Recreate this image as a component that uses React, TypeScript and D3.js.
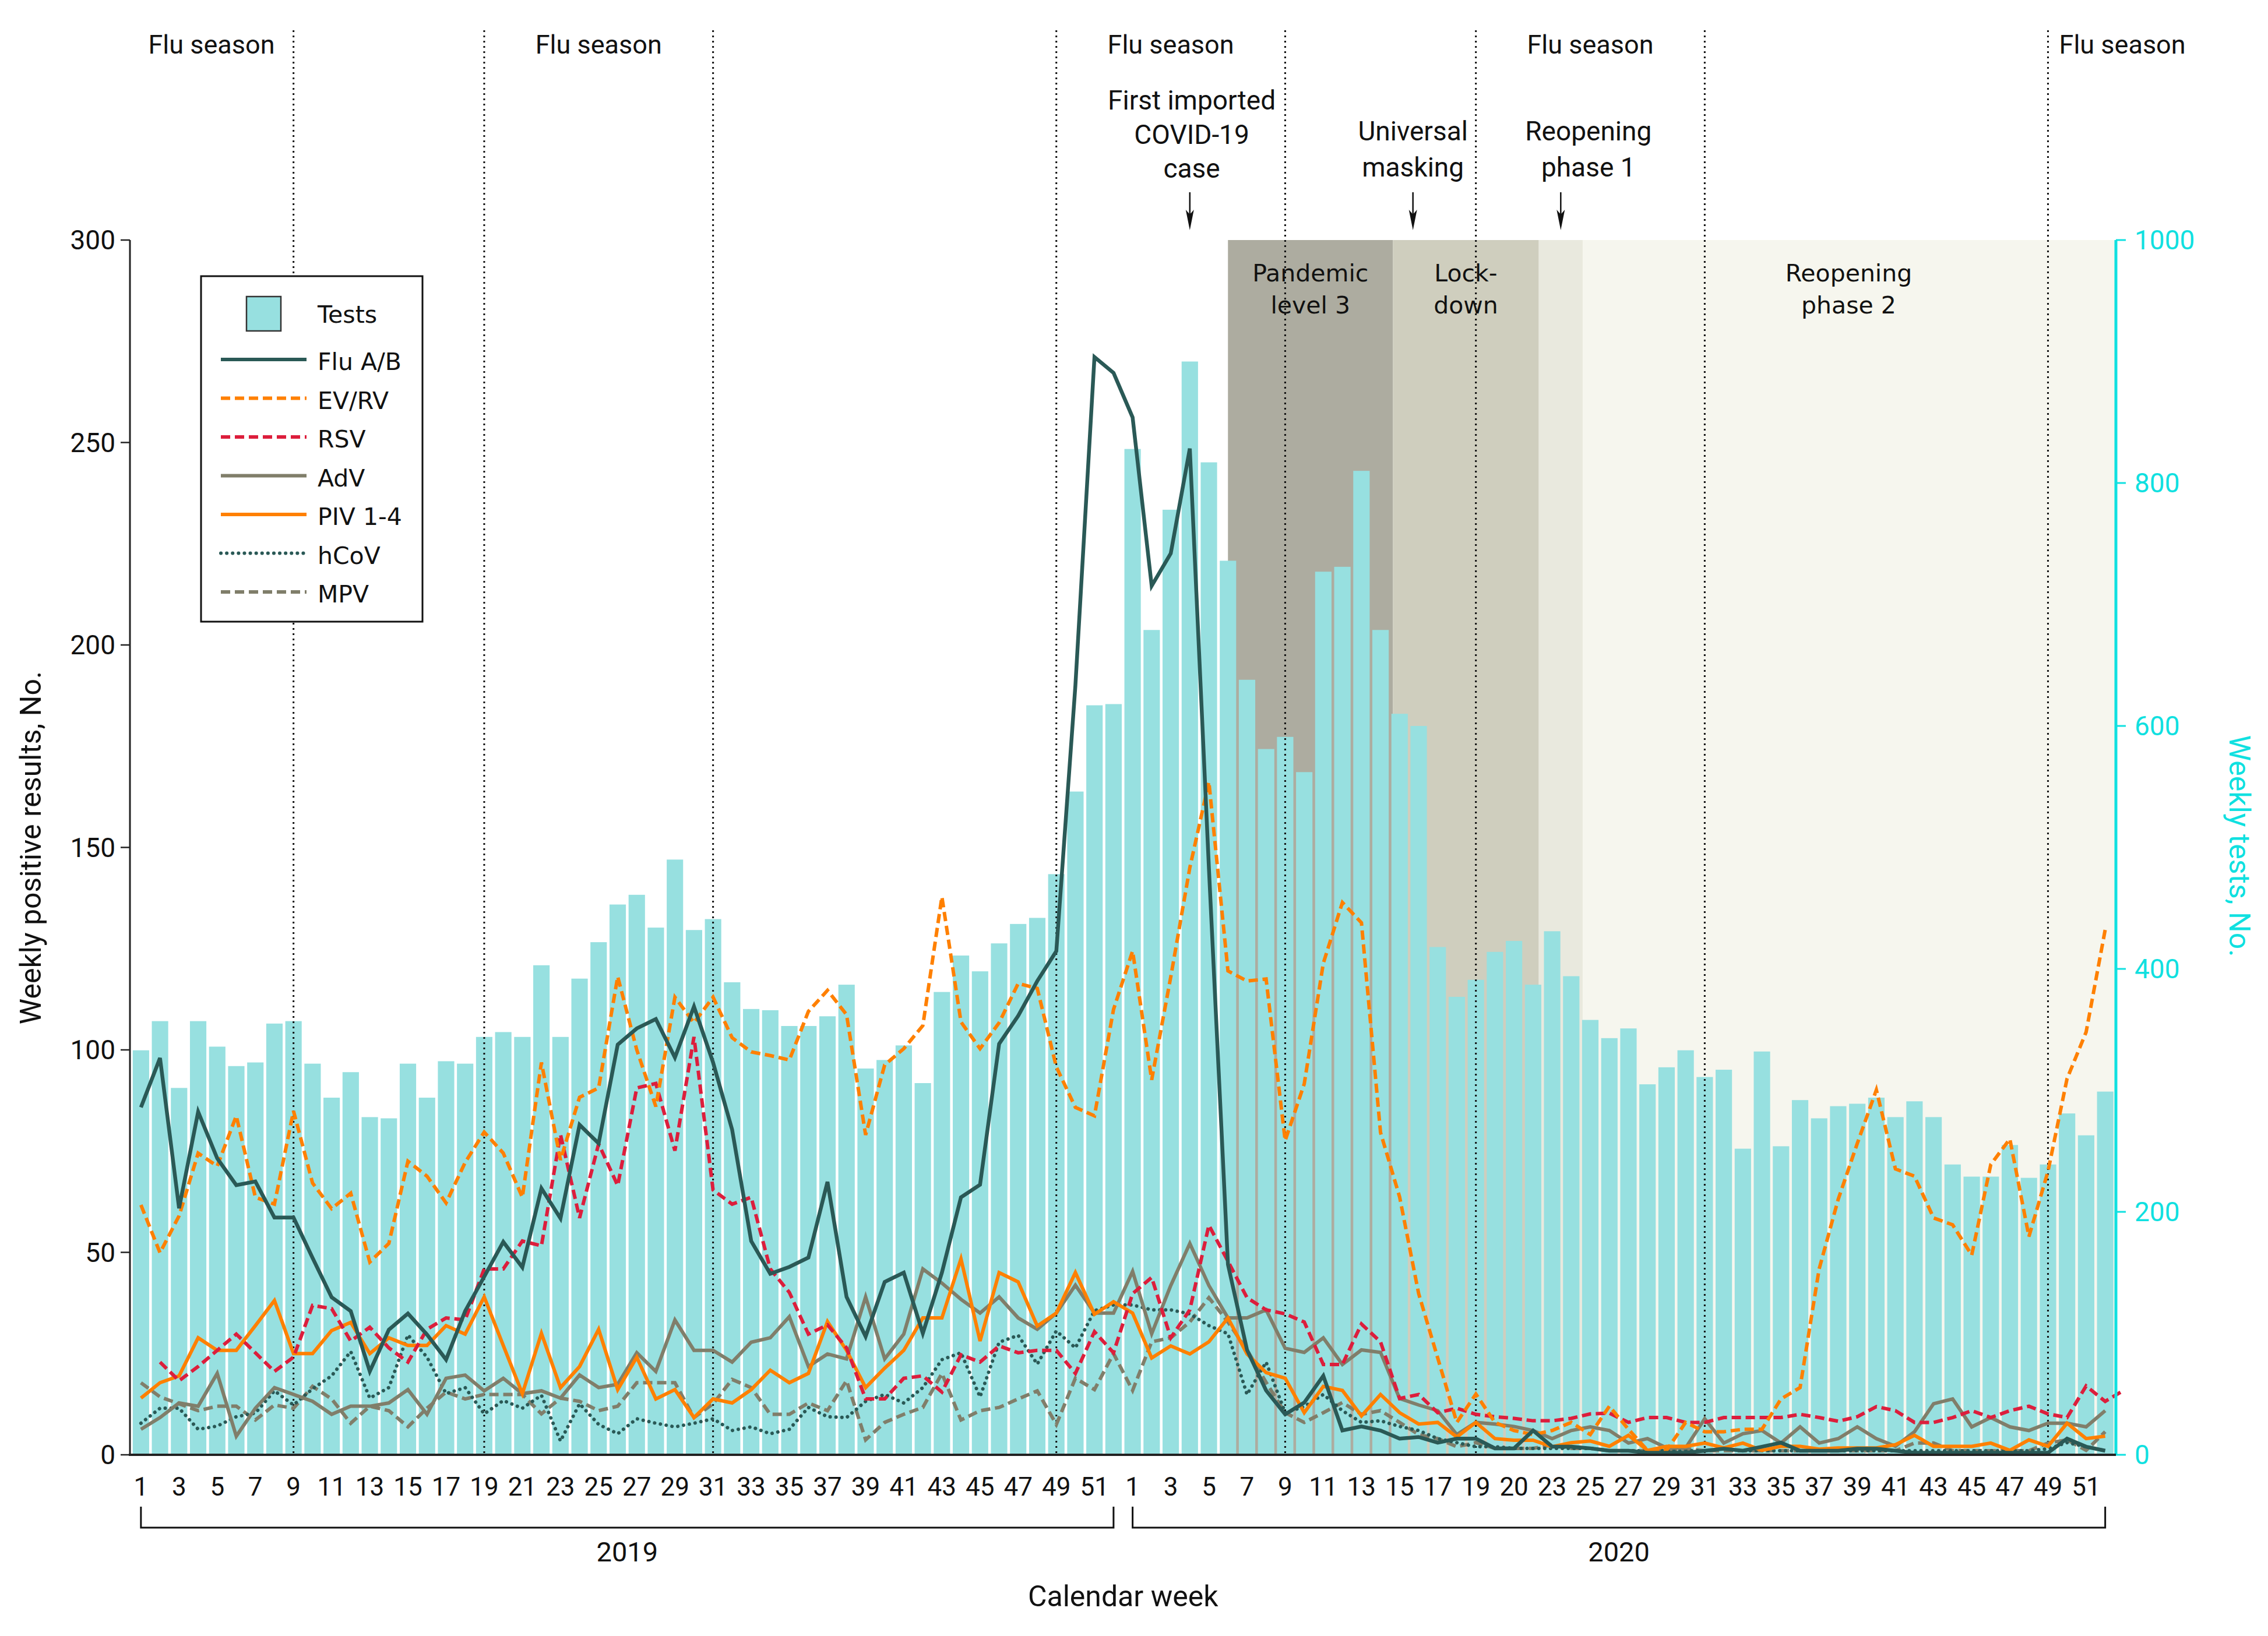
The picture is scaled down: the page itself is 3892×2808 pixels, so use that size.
import React from "react";
import * as d3 from "d3";

const W = 3892;
const H = 2808;

// ---------- DATA ----------
const tests2019 = [333, 357, 302, 357, 336, 320, 323, 355, 357, 322, 294, 315, 278, 277, 322, 294, 324, 322, 344, 348, 344, 403, 344, 392, 422, 453, 461, 434, 490, 432, 441, 389, 367, 366, 353, 353, 361, 387, 318, 325, 337, 306, 381, 411, 398, 421, 437, 442, 478, 546, 617, 618];
const tests2020 = [828, 679, 778, 900, 817, 736, 638, 581, 591, 562, 727, 731, 810, 679, 610, 600, 418, 377, 391, 414, 423, 387, 431, 394, 358, 343, 351, 305, 319, 333, 311, 317, 252, 332, 254, 292, 277, 287, 289, 294, 278, 291, 278, 239, 229, 229, 255, 228, 239, 281, 263, 299];

const flu2019 = [85.8, 98, 60.9, 84.7, 73.2, 66.6, 67.5, 58.6, 58.6, 48.6, 38.9, 35.5, 20.6, 30.9, 34.9, 29.7, 23.5, 35.5, 44, 52.6, 46.3, 65.8, 58.4, 81.5, 76.9, 101.3, 105.3, 107.6, 98.1, 110.7, 96.9, 80.3, 52.8, 44.7, 46.4, 48.7, 67.4, 39, 29.2, 42.7, 45, 30, 45, 63.6, 66.7, 101.5, 108.4, 117, 124.4, 190, 271.1, 267.2];
const flu2020 = [256.2, 214.6, 222.6, 248.5, 145, 47, 25.9, 15.9, 10, 12.9, 19.5, 6, 7, 6, 4, 4.4, 3, 4, 4, 1.6, 1.6, 6, 2, 2, 1.6, 1, 1, 0.5, 0.5, 0.5, 1, 1.5, 1, 2, 3, 1, 1, 1, 1.5, 1.5, 1, 0.5, 0.5, 0.5, 0.5, 0.5, 0.5, 0.5, 0.5, 4, 2, 1];

const evrv2019 = [61.7, 49.9, 59, 74.5, 71.3, 83.7, 63.6, 61.9, 84.9, 67.1, 60.8, 64.6, 47.6, 52.2, 72.5, 68.8, 62.2, 72.2, 79.7, 74.5, 63.6, 96.9, 72.8, 88.3, 90.6, 118.1, 100, 86, 113, 106.7, 113, 103, 99.5, 98.6, 97.5, 109.5, 114.7, 108.7, 79, 96.3, 100.3, 106, 137.8, 106.9, 100.3, 106.7, 116.4, 115.2, 95.8, 85.8, 83.7, 110];
const evrv2020 = [124.4, 92.6, 118, 145, 166.2, 119.5, 117, 117.5, 77.6, 91.6, 121.4, 136.4, 131.4, 79.6, 63.7, 39.8, 23.9, 8, 15, 8, 6, 5, 6, 8, 5, 12, 6.3, 1.1, 1.1, 8, 5.7, 5.7, 6.3, 6.3, 13.8, 16.6, 45.9, 63.1, 76.9, 90.1, 70.6, 68.8, 58.5, 56.8, 49.3, 71.7, 78, 53.9, 70, 92.9, 104.4, 129.7];

const rsv2019 = [null, 22.9, 18.3, 21.8, 25.8, 29.8, 25.2, 20.6, 24.1, 36.9, 36.1, 28.1, 31.5, 26.4, 22.9, 31, 33.8, 33.3, 45.9, 45.9, 52.8, 51.6, 79.1, 58.5, 76.8, 66.5, 90.6, 91.7, 75.1, 103.2, 65.4, 61.9, 63.6, 45.9, 40.1, 29.8, 32.1, 26.4, 13.8, 13.8, 18.9, 19.5, 15.5, 24.7, 22.9, 26.9, 25.2, 25.8, 25.8, 20.1, 30.4, 25.2];
const rsv2020 = [39.8, 43.8, 28.9, 35.8, 56.7, 47.8, 38.8, 35.8, 34.8, 32.8, 22.3, 22.3, 32.3, 27.9, 13.9, 14.9, 10.4, 11.5, 10, 9.4, 9, 8.4, 8.4, 9, 10.1, 10.3, 8, 9.2, 9.2, 8, 8, 9.2, 9.2, 9.2, 9.2, 10, 9.2, 8.3, 9.4, 11.9, 10.9, 8, 8, 9.2, 10.9, 9.2, 10.9, 12, 10.1, 9.2, 17, 13.2, 16];

const adv2019 = [6.3, 9.2, 12.8, 12, 20.1, 4.6, 11.5, 16.6, 14.9, 13.2, 10, 12, 12, 12.8, 16.1, 10, 18.9, 19.7, 15.8, 18.9, 15.1, 15.8, 14, 19.7, 16.6, 17.4, 25.2, 20.6, 33.3, 25.8, 25.8, 22.9, 27.8, 28.9, 34.1, 21.8, 24.9, 23.7, 39, 23.7, 29.8, 45.9, 42.4, 38.4, 35, 39, 33.8, 31, 35, 41.9, 35, 35];
const adv2020 = [45.3, 29.9, 41.8, 52.2, 41.8, 33.8, 33.8, 35.8, 26.3, 25.3, 28.9, 22.3, 25.9, 25.3, 13.9, 12.3, 10.9, 5, 8, 7.6, 7, 6, 4, 6, 6.9, 6, 2.9, 4, 1.7, 1.7, 8.9, 2.9, 5.2, 6, 2.9, 6.9, 2.9, 4, 6.9, 4, 2.1, 5.7, 12.6, 13.8, 6.9, 9.2, 6.9, 6, 7.8, 7.8, 6.9, 10.9];

const piv2019 = [14, 17.8, 19.5, 28.9, 25.8, 25.8, 31.9, 38.1, 25, 25, 30.7, 32.7, 25, 28.9, 27, 27, 31.9, 29.8, 39, 27, 15.1, 30, 16.6, 21.8, 31, 16.1, 24.1, 13.8, 16.1, 9.2, 13.8, 12.8, 16.1, 20.9, 17.8, 20.1, 32.9, 25.8, 16.6, 21.4, 25.8, 33.8, 33.8, 48.4, 28.1, 45, 42.7, 31.8, 35, 45, 34.7, 37.8];
const piv2020 = [35, 23.9, 26.9, 24.9, 27.9, 33.8, 24.9, 20.3, 18.9, 10.4, 16.9, 15.9, 9.6, 14.9, 10.4, 7.6, 8, 4.4, 8, 4, 3.6, 3.6, 2, 3, 3.4, 2.1, 4.8, 1.1, 2.1, 2.1, 2.9, 1.7, 2.9, 1.1, 2.1, 2.1, 1.4, 1.7, 1.7, 1.7, 2.5, 4.8, 2.1, 2.1, 2.1, 2.9, 1.1, 3.7, 2.1, 7.8, 4, 4.6];

const hcov2019 = [7.8, 11.5, 11.5, 6.3, 7.1, 9.4, 10.3, 15.8, 12.3, 16.3, 19.5, 25.5, 14, 16.6, 29.6, 24.1, 15.1, 16.6, 10.1, 13.4, 11.5, 14.7, 3.4, 12.6, 7.5, 5.2, 8.9, 7.8, 6.9, 7.8, 8.9, 6, 6.9, 5.2, 6.3, 11.7, 9.4, 9.2, 13.2, 14.9, 12.8, 16.6, 23.5, 25.2, 14.3, 27.8, 29.5, 22.4, 30.6, 26.4, 35.6, 37];
const hcov2020 = [37, 35.8, 35.8, 34.8, 31.9, 29.9, 14.9, 22.9, 10.4, 11.9, 14.9, 10.9, 8, 8.4, 7, 6, 4, 3, 2, 2, 1.6, 1.6, 1.6, 1.6, 1.6, 1, 1, 1, 1, 1, 1, 1.5, 1, 1, 1, 1, 1, 1, 1, 1, 1, 1, 1, 1, 1, 1, 1, 1, 1.5, 3, 2, 1];

const mpv2019 = [17.8, 14.3, 12.6, 10.9, 12, 12, 8.6, 12.3, 11.5, 16.9, 13.8, 7.8, 12, 10.9, 6.9, 11.5, 15.5, 13.8, 14.9, 14.9, 14.9, 10.1, 14, 13.2, 10.9, 12, 17.8, 17.8, 17.8, 9.2, 12.6, 18.6, 16.6, 10, 10, 12.8, 10.9, 18.3, 3.7, 8, 10, 11.7, 20.1, 8.6, 10.9, 11.7, 13.8, 15.8, 7.5, 18.9, 16.1, 25];
const mpv2020 = [15.9, 27.9, 28.9, 32.8, 38.8, 32.8, 25.9, 17.9, 10.4, 8, 10.4, 12.9, 10, 10.9, 8, 5, 4, 2, 3, 1.6, 1.6, 1.6, 2.4, 1.6, 1.6, 1, 1, 1, 1, 1.5, 1, 1, 1, 1, 1, 1, 1, 1, 1, 1, 1, 2.9, 2.9, 1, 1, 1, 1, 1, 2.9, 3.7, 1.1, 5.7];

const weekLabels2019 = ["1", "3", "5", "7", "9", "11", "13", "15", "17", "19", "21", "23", "25", "27", "29", "31", "33", "35", "37", "39", "41", "43", "45", "47", "49", "51"];
const weekLabels2020 = ["1", "3", "5", "7", "9", "11", "13", "15", "17", "19", "20", "23", "25", "27", "29", "31", "33", "35", "37", "39", "41", "43", "45", "47", "49", "51"];
const years = [2019, 2020];

const leftTicks = [0, 50, 100, 150, 200, 250, 300];
const rightTicks = [0, 200, 400, 600, 800, 1000];

// flu season boundaries (year, week)
const fluBoundaries: [number, number][] = [[2019, 9], [2019, 19], [2019, 31], [2019, 49], [2020, 9], [2020, 19], [2020, 31], [2020, 49]];
const fluLabelWeeks: [number, number][] = [[2019, 4.7], [2019, 25], [2020, 3], [2020, 25], [2020, 52.9]];

// policy phases in 2020 (fractional week positions)
const phaseNames = [["Pandemic", "level 3"], ["Lock-", "down"], [], ["Reopening", "phase 2"]];
const phaseStarts2020 = [6, 14.65, 22.3, 24.6];
const phaseEnd2020 = 52.5;
const phaseColors = ["#adaca0", "#cfcebe", "#e9e9de", "#f6f6ee"];

// events in 2020 (arrow week, text week)
const eventLines = [["First imported", "COVID-19", "case"], ["Universal", "masking"], ["Reopening", "phase 1"]];
const eventArrowWeeks = [4, 15.7, 23.45];
const eventTextWeeks = [4.1, 15.7, 24.9];

const seriesNames = ["Flu A/B", "EV/RV", "RSV", "AdV", "PIV 1-4", "hCoV", "MPV"];

// ---------- STYLE ----------
const TEAL = "#2a5956";
const ORANGE = "#ff8000";
const RED = "#dc1e3c";
const OLIVE = "#807e6a";
const CYAN = "#10e0e0";
const BAR = "#97e0e0";
const COND = "Roboto, 'Liberation Sans', sans-serif";
const LEG = "'DejaVu Sans', Verdana, sans-serif";

const seriesStyles = [
  { color: TEAL, dash: undefined as string | undefined, cap: "butt", w: 6.5 },
  { color: ORANGE, dash: "16 8", cap: "butt", w: 6 },
  { color: RED, dash: "16 8", cap: "butt", w: 6 },
  { color: OLIVE, dash: undefined, cap: "butt", w: 6 },
  { color: ORANGE, dash: undefined, cap: "butt", w: 6 },
  { color: TEAL, dash: "0.1 10", cap: "round", w: 6 },
  { color: OLIVE, dash: "16 8", cap: "butt", w: 6 },
];

export default function App() {
  const top = 412;
  const bottom = 2497;
  const x = d3.scaleLinear().domain([0, 104]).range([225.5, 3629]);
  const yL = d3.scaleLinear().domain([0, 300]).range([bottom, top]);
  const yR = d3.scaleLinear().domain([0, 1000]).range([bottom, top]);
  const step = x(1) - x(0);
  const bw = step * 0.86;
  const cx = (i: number) => x(i + 0.5);
  const wpos = (year: number, w: number) => (year - 2019) * 52 + (w - 1) + 0.5;

  const tests = [...tests2019, ...tests2020];
  const series = [
    [...flu2019, ...flu2020],
    [...evrv2019, ...evrv2020],
    [...rsv2019, ...rsv2020],
    [...adv2019, ...adv2020],
    [...piv2019, ...piv2020],
    [...hcov2019, ...hcov2020],
    [...mpv2019, ...mpv2020],
  ];
  const drawOrder = [6, 5, 3, 4, 2, 1, 0];

  const line = d3
    .line<number | null>()
    .defined((d) => d != null)
    .x((_, i) => cx(i))
    .y((d) => yL(d as number));

  const phaseBounds = [...phaseStarts2020, phaseEnd2020].map((w) => x(wpos(2020, w)));

  const legendX0 = 345, legendY0 = 474, legendX1 = 725, legendY1 = 1067;
  const legRow = (k: number) => 617 + k * 66.5;

  return (
    <svg width={W} height={H} style={{ position: "absolute", left: 0, top: 0, background: "#fff" }}>
      <rect x={0} y={0} width={W} height={H} fill="#fff" />
      {/* phases */}
      {phaseColors.map((c, k) => (
        <rect key={"ph" + k} x={phaseBounds[k]} y={top} width={phaseBounds[k + 1] - phaseBounds[k]} height={bottom - top} fill={c} />
      ))}
      {/* bars */}
      {tests.map((v, i) => (
        <rect key={"b" + i} x={cx(i) - bw / 2} y={yR(v)} width={bw} height={bottom - yR(v)} fill={BAR} />
      ))}
      {/* phase labels */}
      {phaseNames.map((lines, k) =>
        lines.map((t, j) => (
          <text key={"pl" + k + j} x={(phaseBounds[k] + phaseBounds[k + 1]) / 2} y={483 + j * 55} textAnchor="middle" fontFamily={LEG} fontSize={41} fill="#111">
            {t}
          </text>
        ))
      )}
      {/* flu season boundaries */}
      {fluBoundaries.map(([yr, wk], k) => (
        <line key={"fb" + k} x1={x(wpos(yr, wk))} x2={x(wpos(yr, wk))} y1={52} y2={bottom} stroke="#111" strokeWidth={3} strokeDasharray="3 6" />
      ))}
      {/* lines */}
      {drawOrder.map((k) => (
        <path
          key={"s" + k}
          d={line(series[k] as (number | null)[]) || ""}
          fill="none"
          stroke={seriesStyles[k].color}
          strokeWidth={seriesStyles[k].w}
          strokeDasharray={seriesStyles[k].dash}
          strokeLinecap={seriesStyles[k].cap as any}
          strokeLinejoin="miter"
        />
      ))}
      {/* left axis */}
      <line x1={223} x2={223} y1={top} y2={bottom} stroke="#222" strokeWidth={3} />
      {leftTicks.map((t) => (
        <g key={"lt" + t}>
          <line x1={207} x2={223} y1={yL(t)} y2={yL(t)} stroke="#222" strokeWidth={2.5} />
          <text x={198} y={yL(t)} dy="0.35em" textAnchor="end" fontFamily={COND} fontSize={46} fill="#111">
            {t}
          </text>
        </g>
      ))}
      {/* right axis */}
      <line x1={3631} x2={3631} y1={top} y2={bottom} stroke={CYAN} strokeWidth={5} />
      {rightTicks.map((t) => (
        <g key={"rt" + t}>
          <line x1={3631} x2={3648} y1={yR(t)} y2={yR(t)} stroke={CYAN} strokeWidth={3} />
          <text x={3663} y={yR(t)} dy="0.35em" textAnchor="start" fontFamily={COND} fontSize={46} fill={CYAN}>
            {t}
          </text>
        </g>
      ))}
      {/* bottom axis */}
      <line x1={221} x2={3631} y1={bottom} y2={bottom} stroke="#222" strokeWidth={4} />
      {years.map((yr, yi) =>
        (yi === 0 ? weekLabels2019 : weekLabels2020).map((lab, k) => (
          <text key={"wl" + yr + k} x={cx(yi * 52 + k * 2)} y={2567} textAnchor="middle" fontFamily={COND} fontSize={44} fill="#111">
            {lab}
          </text>
        ))
      )}
      {years.map((yr, yi) => {
        const xa = cx(yi * 52);
        const xb = cx(yi * 52 + 51);
        return (
          <g key={"yr" + yr}>
            <path d={`M${xa},2586 V2622 H${xb} V2586`} fill="none" stroke="#111" strokeWidth={3} />
            <text x={(xa + xb) / 2} y={2680} textAnchor="middle" fontFamily={COND} fontSize={47} fill="#111">
              {yr}
            </text>
          </g>
        );
      })}
      <text x={(x(0) + x(104)) / 2} y={2757} textAnchor="middle" fontFamily={COND} fontSize={50} fill="#111">
        Calendar week
      </text>
      <text transform={`translate(70,1455) rotate(-90)`} textAnchor="middle" fontFamily={COND} fontSize={50} fill="#111">
        Weekly positive results, No.
      </text>
      <text transform={`translate(3826,1452) rotate(90)`} textAnchor="middle" fontFamily={COND} fontSize={50} fill={CYAN}>
        Weekly tests, No.
      </text>
      {/* flu season labels */}
      {fluLabelWeeks.map(([yr, wk], k) => (
        <text key={"fl" + k} x={x(wpos(yr, wk))} y={92} textAnchor="middle" fontFamily={COND} fontSize={45} fill="#111">
          Flu season
        </text>
      ))}
      {/* events */}
      {eventLines.map((lines, k) => {
        const ax = x(wpos(2020, eventArrowWeeks[k]));
        const tx = x(wpos(2020, eventTextWeeks[k]));
        const n = lines.length;
        const gap = n === 3 ? 58.5 : 62;
        return (
          <g key={"ev" + k}>
            {lines.map((t, j) => (
              <text key={j} x={tx} y={(n === 3 ? 305 : 303) - (n - 1 - j) * gap} textAnchor="middle" fontFamily={COND} fontSize={46} fill="#111">
                {t}
              </text>
            ))}
            <line x1={ax} x2={ax} y1={330} y2={370} stroke="#111" strokeWidth={2.5} />
            <path d={`M${ax - 7},360 L${ax},395 L${ax + 7},360 L${ax},368 Z`} fill="#111" />
          </g>
        );
      })}
      {/* legend */}
      <rect x={legendX0} y={legendY0} width={legendX1 - legendX0} height={legendY1 - legendY0} fill="#fff" stroke="#111" strokeWidth={3} />
      <rect x={423} y={509} width={59} height={59} fill={BAR} stroke="#333" strokeWidth={2.5} />
      <text x={545} y={554} fontFamily={LEG} fontSize={41} fill="#111">
        Tests
      </text>
      {seriesNames.map((nm, k) => (
        <g key={"lg" + k}>
          <line
            x1={379}
            x2={526}
            y1={legRow(k)}
            y2={legRow(k)}
            stroke={seriesStyles[k].color}
            strokeWidth={6}
            strokeDasharray={seriesStyles[k].dash}
            strokeLinecap={seriesStyles[k].cap as any}
          />
          <text x={545} y={legRow(k) + 18} fontFamily={LEG} fontSize={41} fill="#111">
            {nm}
          </text>
        </g>
      ))}
    </svg>
  );
}
